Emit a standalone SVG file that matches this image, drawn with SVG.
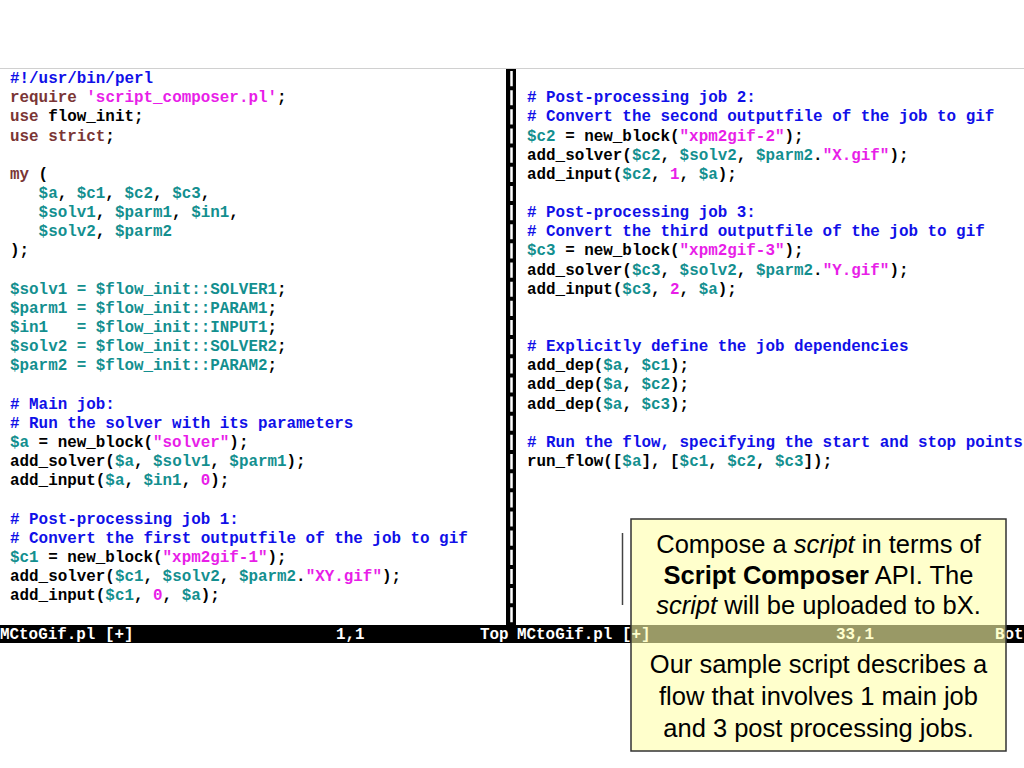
<svg xmlns="http://www.w3.org/2000/svg" width="1024" height="768" viewBox="0 0 1024 768">
<style>
.code{font-family:"Liberation Mono","DejaVu Sans Mono",monospace;font-size:15.9px;font-weight:bold;fill:#000}
.c{fill:#1010e8}
.k{fill:#7a3535}
.s{fill:#e81ee8}
.v{fill:#138f8f}
.st{font-family:"Liberation Mono","DejaVu Sans Mono",monospace;font-size:15.9px;font-weight:bold;fill:#fff}
.note{font-family:"Liberation Sans",Arial,sans-serif;font-size:25.5px;fill:#000;text-anchor:middle}
</style>
<rect width="1024" height="768" fill="#fff"/>
<line x1="0" y1="68.5" x2="1024" y2="68.5" stroke="#d0d0d0" stroke-width="1"/>

<g id="left-pane" class="code">
<text x="10" y="83" class="c">#!/usr/bin/perl</text>
<text x="10" y="102.2"><tspan class="k">require</tspan> <tspan class="s">'script_composer.pl'</tspan>;</text>
<text x="10" y="121.3"><tspan class="k">use</tspan> flow_init;</text>
<text x="10" y="140.5"><tspan class="k">use strict</tspan>;</text>
<text x="10" y="178.8"><tspan class="k">my</tspan> (</text>
<text x="38.6" y="197.9"><tspan class="v">$a</tspan>, <tspan class="v">$c1</tspan>, <tspan class="v">$c2</tspan>, <tspan class="v">$c3</tspan>,</text>
<text x="38.6" y="217.1"><tspan class="v">$solv1</tspan>, <tspan class="v">$parm1</tspan>, <tspan class="v">$in1</tspan>,</text>
<text x="38.6" y="236.2"><tspan class="v">$solv2</tspan>, <tspan class="v">$parm2</tspan></text>
<text x="10" y="255.4">);</text>
<text x="10" y="293.7"><tspan class="v">$solv1 = $flow_init::SOLVER1</tspan>;</text>
<text x="10" y="312.8"><tspan class="v">$parm1 = $flow_init::PARAM1</tspan>;</text>
<text x="10" y="332"><tspan class="v">$in1&#160;&#160;&#160;= $flow_init::INPUT1</tspan>;</text>
<text x="10" y="351.1"><tspan class="v">$solv2 = $flow_init::SOLVER2</tspan>;</text>
<text x="10" y="370.3"><tspan class="v">$parm2 = $flow_init::PARAM2</tspan>;</text>
<text x="10" y="408.6" class="c"># Main job:</text>
<text x="10" y="427.7" class="c"># Run the solver with its parameters</text>
<text x="10" y="446.9"><tspan class="v">$a</tspan> = new_block(<tspan class="s">"solver"</tspan>);</text>
<text x="10" y="466">add_solver(<tspan class="v">$a</tspan>, <tspan class="v">$solv1</tspan>, <tspan class="v">$parm1</tspan>);</text>
<text x="10" y="485.2">add_input(<tspan class="v">$a</tspan>, <tspan class="v">$in1</tspan>, <tspan class="s">0</tspan>);</text>
<text x="10" y="523.5" class="c"># Post-processing job 1:</text>
<text x="10" y="542.6" class="c"># Convert the first outputfile of the job to gif</text>
<text x="10" y="561.8"><tspan class="v">$c1</tspan> = new_block(<tspan class="s">"xpm2gif-1"</tspan>);</text>
<text x="10" y="580.9">add_solver(<tspan class="v">$c1</tspan>, <tspan class="v">$solv2</tspan>, <tspan class="v">$parm2</tspan>.<tspan class="s">"XY.gif"</tspan>);</text>
<text x="10" y="600.1">add_input(<tspan class="v">$c1</tspan>, <tspan class="s">0</tspan>, <tspan class="v">$a</tspan>);</text>
</g>

<g id="divider">
<rect x="506" y="69" width="10" height="556" fill="#000"/>
<line x1="511.5" y1="71" x2="511.5" y2="625" stroke="#fff" stroke-width="2.5" stroke-dasharray="15.15 4"/>
</g>

<g id="right-pane" class="code">
<text x="527" y="102.2" class="c"># Post-processing job 2:</text>
<text x="527" y="121.3" class="c"># Convert the second outputfile of the job to gif</text>
<text x="527" y="140.5"><tspan class="v">$c2</tspan> = new_block(<tspan class="s">"xpm2gif-2"</tspan>);</text>
<text x="527" y="159.6">add_solver(<tspan class="v">$c2</tspan>, <tspan class="v">$solv2</tspan>, <tspan class="v">$parm2</tspan>.<tspan class="s">"X.gif"</tspan>);</text>
<text x="527" y="178.8">add_input(<tspan class="v">$c2</tspan>, <tspan class="s">1</tspan>, <tspan class="v">$a</tspan>);</text>
<text x="527" y="217.1" class="c"># Post-processing job 3:</text>
<text x="527" y="236.2" class="c"># Convert the third outputfile of the job to gif</text>
<text x="527" y="255.4"><tspan class="v">$c3</tspan> = new_block(<tspan class="s">"xpm2gif-3"</tspan>);</text>
<text x="527" y="274.5">add_solver(<tspan class="v">$c3</tspan>, <tspan class="v">$solv2</tspan>, <tspan class="v">$parm2</tspan>.<tspan class="s">"Y.gif"</tspan>);</text>
<text x="527" y="293.7">add_input(<tspan class="v">$c3</tspan>, <tspan class="s">2</tspan>, <tspan class="v">$a</tspan>);</text>
<text x="527" y="351.1" class="c"># Explicitly define the job dependencies</text>
<text x="527" y="370.3">add_dep(<tspan class="v">$a</tspan>, <tspan class="v">$c1</tspan>);</text>
<text x="527" y="389.4">add_dep(<tspan class="v">$a</tspan>, <tspan class="v">$c2</tspan>);</text>
<text x="527" y="408.6">add_dep(<tspan class="v">$a</tspan>, <tspan class="v">$c3</tspan>);</text>
<text x="527" y="446.9" class="c"># Run the flow, specifying the start and stop points</text>
<text x="527" y="466">run_flow([<tspan class="v">$a</tspan>], [<tspan class="v">$c1</tspan>, <tspan class="v">$c2</tspan>, <tspan class="v">$c3</tspan>]);</text>
</g>

<g id="status-bar">
<rect x="0" y="625" width="1024" height="18" fill="#000"/>
<text x="0" y="639" class="st">MCtoGif.pl [+]</text>
<text x="336" y="639" class="st">1,1</text>
<text x="480" y="639" class="st">Top</text>
<text x="517" y="639" class="st">MCtoGif.pl [+]</text>
<text x="836" y="639" class="st">33,1</text>
<text x="995" y="639" class="st">Bot</text>
</g>

<line id="cursor" x1="622.5" y1="533" x2="622.5" y2="605" stroke="#444" stroke-width="1.5"/>

<g id="callout">
<rect x="631" y="519" width="375" height="232" fill="#ffffaa" fill-opacity="0.6" stroke="#333" stroke-width="1.5"/>
<text class="note" x="818.5" y="553">Compose a <tspan font-style="italic">script</tspan> in terms of</text>
<text class="note" x="818.5" y="584"><tspan font-weight="bold">Script Composer</tspan> API. The</text>
<text class="note" x="818.5" y="614"><tspan font-style="italic">script</tspan> will be uploaded to bX.</text>
<text class="note" x="818.5" y="673">Our sample script describes a</text>
<text class="note" x="818.5" y="705">flow that involves 1 main job</text>
<text class="note" x="818.5" y="737">and 3 post processing jobs.</text>
</g>
</svg>
